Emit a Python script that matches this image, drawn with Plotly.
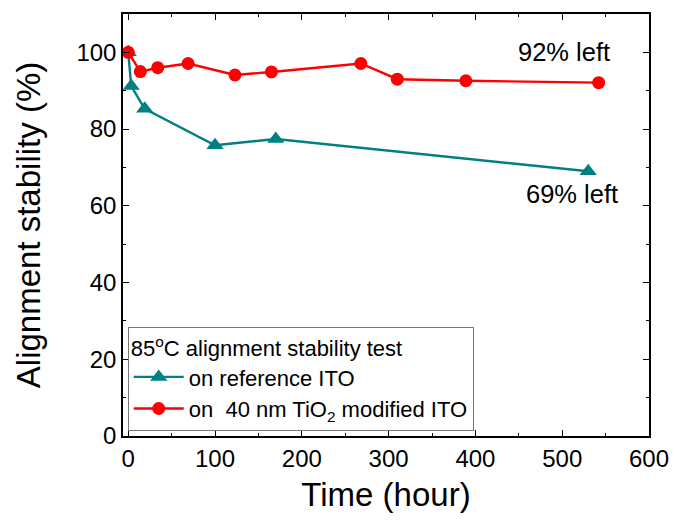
import plotly.graph_objects as go

# Data
t_ref = [0, 3.5, 19, 100, 170, 530]
s_ref = [100, 91.2, 85.3, 75.8, 77.4, 69.0]
t_tio2 = [0, 14, 34, 69, 123, 165, 268, 310, 389, 542]
s_tio2 = [100, 95.0, 96.0, 97.1, 94.1, 94.9, 97.1, 93.0, 92.6, 92.1]

x_ticks = [0, 100, 200, 300, 400, 500, 600]
y_ticks = [0, 20, 40, 60, 80, 100]

FONT = "Liberation Sans, Arial, sans-serif"
TEAL = "rgb(0,128,128)"
RED = "rgb(255,0,0)"

fig = go.Figure()
fig.add_trace(go.Scatter(
    x=t_ref, y=s_ref, mode="lines+markers", name="on reference ITO",
    line=dict(color=TEAL, width=2.4),
    marker=dict(symbol="triangle-up", size=15, color=TEAL),
))
fig.add_trace(go.Scatter(
    x=t_tio2, y=s_tio2, mode="lines+markers",
    name="on  40 nm TiO<sub>2</sub> modified ITO",
    line=dict(color=RED, width=2.4),
    marker=dict(symbol="circle", size=13, color=RED),
))

fig.add_annotation(x=502, y=100, text="92% left", showarrow=False,
                   font=dict(family=FONT, size=25.5, color="black"))
fig.add_annotation(x=511, y=63, text="69% left", showarrow=False,
                   font=dict(family=FONT, size=25.5, color="black"))

axis_common = dict(
    showline=True, linecolor="black", linewidth=1.5, mirror="ticks",
    ticks="inside", ticklen=6, tickwidth=1.3, tickcolor="black",
    showgrid=False, zeroline=False,
    tickfont=dict(family=FONT, size=24, color="black"),
)

fig.update_xaxes(
    range=[-6, 600], tickvals=x_ticks,
    minor=dict(dtick=50, ticks="inside", ticklen=3, tickwidth=1.2, tickcolor="black"),
    title=dict(text="Time (hour)", font=dict(family=FONT, size=33, color="black"), standoff=12),
    automargin=False,
    **axis_common,
)
fig.update_yaxes(
    range=[0, 110], tickvals=y_ticks,
    minor=dict(dtick=10, ticks="inside", ticklen=3, tickwidth=1.2, tickcolor="black"),
    title=dict(text="Alignment stability (%)", font=dict(family=FONT, size=33, color="black"), standoff=26),
    automargin=False,
    **axis_common,
)

fig.update_layout(
    width=673, height=520,
    margin=dict(l=123, r=24, t=14, b=84),
    paper_bgcolor="white", plot_bgcolor="white",
    font=dict(family=FONT, color="black"),
    legend=dict(
        x=0.009, y=0.013, xanchor="left", yanchor="bottom",
        bgcolor="white", bordercolor="rgb(120,120,120)", borderwidth=1,
        font=dict(family=FONT, size=22, color="black"),
        title=dict(text="85<sup>o</sup>C alignment stability test",
                   font=dict(family=FONT, size=22, color="black")),
        itemwidth=50, tracegroupgap=0,
    ),
)

fig.write_html("out.html")
